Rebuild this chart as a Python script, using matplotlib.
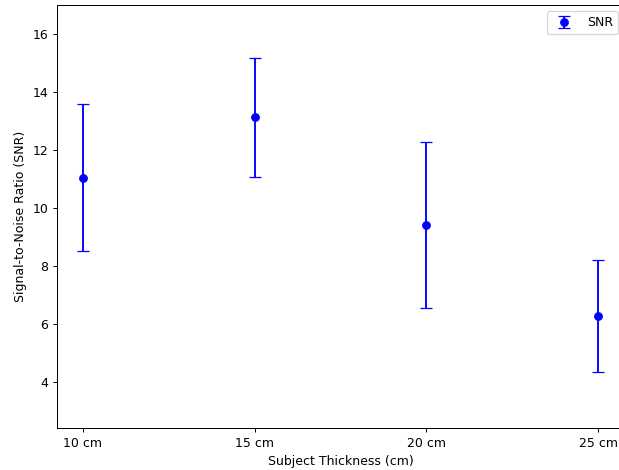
import matplotlib
matplotlib.use("Agg")
import matplotlib.pyplot as plt

categories = ["10 cm", "15 cm", "20 cm", "25 cm"]
snr_mean = [11.05, 13.12, 9.41, 6.28]
snr_err = [2.53, 2.06, 2.87, 1.94]

DPI = 90
fig = plt.figure(figsize=(619 / DPI, 470 / DPI), dpi=DPI)
ax = fig.add_axes([57 / 619, 1 - 428 / 470, (624 - 57) / 619, (428 - 5) / 470])
ax.errorbar(categories, snr_mean, yerr=snr_err, fmt="o", color="b", capsize=5, label="SNR")
ax.set_ylim(2.41, 17.0)
ax.set_xlabel("Subject Thickness (cm)")
ax.set_ylabel("Signal-to-Noise Ratio (SNR)")
ax.legend(loc="upper right")
fig.savefig("out.png", dpi=DPI)
